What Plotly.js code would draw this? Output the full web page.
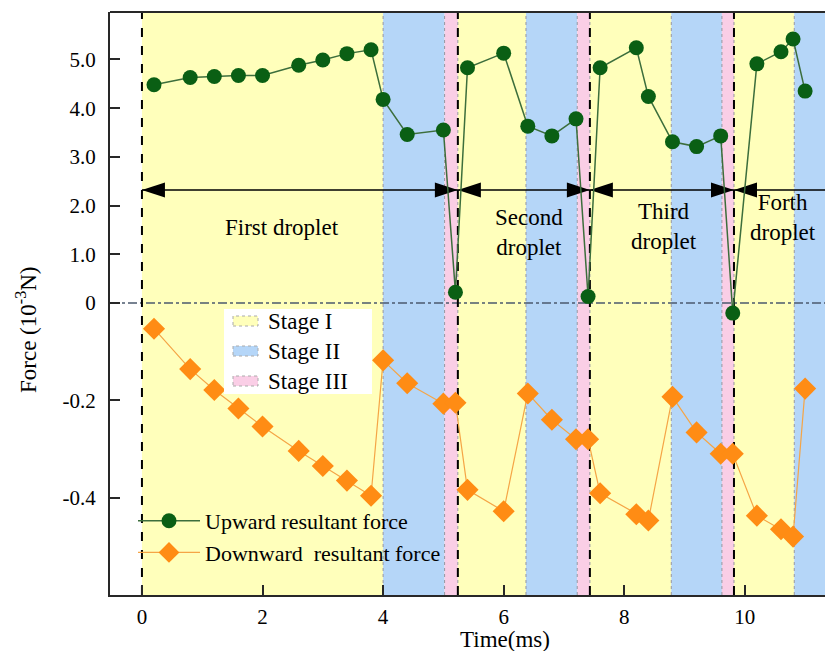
<!DOCTYPE html>
<html>
<head>
<meta charset="utf-8">
<script src="https://cdn.plot.ly/plotly-3.0.1.min.js"></script>
<style>html,body{margin:0;padding:0;background:#fff;}#chart{width:825px;height:651px;}</style>
</head>
<body>
<div id="chart"></div>
<script>
// ---- data ----
const timeMs = [0.2, 0.8, 1.2, 1.6, 2.0, 2.6, 3.0, 3.4, 3.8, 4.0, 4.4, 5.0, 5.2, 5.4, 6.0, 6.4, 6.8, 7.2, 7.4, 7.6, 8.2, 8.4, 8.8, 9.2, 9.6, 9.8, 10.2, 10.6, 10.8, 11.0];
const upwardForce = [4.48, 4.63, 4.65, 4.67, 4.67, 4.88, 4.99, 5.12, 5.20, 4.18, 3.46, 3.55, 0.22, 4.83, 5.13, 3.63, 3.43, 3.78, 0.13, 4.83, 5.24, 4.24, 3.31, 3.21, 3.43, -0.021, 4.91, 5.16, 5.42, 4.35];
const downwardForce = [-0.053, -0.136, -0.179, -0.217, -0.254, -0.304, -0.335, -0.365, -0.396, -0.118, -0.165, -0.207, -0.205, -0.384, -0.428, -0.186, -0.240, -0.280, -0.280, -0.391, -0.434, -0.447, -0.193, -0.266, -0.310, -0.310, -0.437, -0.465, -0.480, -0.176];
const yTickValues = [5.0, 4.0, 3.0, 2.0, 1.0, 0, -0.2, -0.4];
const yTickLabels = ["5.0", "4.0", "3.0", "2.0", "1.0", "0", "-0.2", "-0.4"];
const xTickValues = [0, 2, 4, 6, 8, 10];
// stage bands: [start, end, stage]
const stageStarts = [0, 4.0, 5.02, 5.24, 6.37, 7.22, 7.43, 8.78, 9.62, 9.82, 10.82];
const stageEnds   = [4.0, 5.02, 5.24, 6.37, 7.22, 7.43, 8.78, 9.62, 9.82, 10.82, 12];
const stageKinds  = [1, 2, 3, 1, 2, 3, 1, 2, 3, 1, 2];
const dropletStarts = [0, 5.24, 7.43, 9.82];
const dropletNames = ["First droplet", "Second<br>droplet", "Third<br>droplet", "Forth<br>droplet"];
const dropletLabelX = [2.32, 6.42, 8.66, 10.63];
const dropletLabelY = [1.54, 1.44, 1.56, 1.75];
const stageNames = ["Stage I", "Stage II", "Stage III"];

// ---- scale: negative part is stretched 10x ----
const disp = v => v >= 0 ? v : v * 10;

const stageColors = {1: 'rgb(255,255,187)', 2: 'rgb(181,214,248)', 3: 'rgb(250,206,230)'};
const serif = 'Liberation Serif, Times New Roman, serif';

const X0 = -0.53, X1 = 11.33, Y0 = -6.0, Y1 = 5.975;
const L = 110, T = 12, W = 715, H = 583;
const pxX = px => (px - L) / W;          // pixel -> paper x
const pxY = py => (T + H - py) / H;      // pixel -> paper y
const xUnitPerPx = (X1 - X0) / W, yUnitPerPx = (Y1 - Y0) / H;

const shapes = [];
stageStarts.forEach((s, i) => {
  shapes.push({type: 'rect', xref: 'x', yref: 'paper', x0: s, x1: stageEnds[i], y0: 0, y1: 1,
    fillcolor: stageColors[stageKinds[i]], line: {width: 0}, layer: 'below'});
});
stageStarts.slice(1).forEach(s => {
  shapes.push({type: 'line', xref: 'x', yref: 'paper', x0: s, x1: s, y0: 0, y1: 1,
    line: {color: 'rgb(150,150,160)', width: 1, dash: 'dot'}, layer: 'below'});
});
// zero line
shapes.push({type: 'line', xref: 'paper', yref: 'y', x0: 0, x1: 1, y0: 0, y1: 0,
  line: {color: 'rgb(75,90,110)', width: 1.5, dash: 'dashdot'}, layer: 'below'});
// droplet boundaries
dropletStarts.forEach(s => {
  shapes.push({type: 'line', xref: 'x', yref: 'paper', x0: s, x1: s, y0: 0, y1: 1,
    line: {color: 'black', width: 2, dash: 'dash'}, layer: 'below'});
});
// arrows
const arrowY = 2.32;
shapes.push({type: 'line', xref: 'x', yref: 'y', x0: 0, x1: X1, y0: arrowY, y1: arrowY,
  line: {color: 'black', width: 1.5}, layer: 'below'});
const triL = 23 * xUnitPerPx, triH = 7.5 * yUnitPerPx;
function tri(tip, dir) {
  const b = tip + dir * triL;
  return {type: 'path', xref: 'x', yref: 'y', layer: 'below',
    path: `M ${tip},${arrowY} L ${b},${arrowY + triH} L ${b},${arrowY - triH} Z`,
    fillcolor: 'black', line: {width: 0}};
}
dropletStarts.forEach((s, i) => {
  shapes.push(tri(s, 1));
  if (i > 0) shapes.push(tri(s, -1));
});
// top border
shapes.push({type: 'line', xref: 'paper', yref: 'paper', x0: 0, x1: 1, y0: 1, y1: 1,
  line: {color: 'rgb(40,40,40)', width: 2}});

// stage legend box
shapes.push({type: 'rect', xref: 'paper', yref: 'paper', x0: pxX(224), x1: pxX(372), y0: pxY(394), y1: pxY(309),
  fillcolor: 'white', line: {width: 0}});
const annotations = [];
const stageRowY = [321, 351, 381];
stageNames.forEach((n, i) => {
  shapes.push({type: 'rect', xref: 'paper', yref: 'paper', x0: pxX(233), x1: pxX(258),
    y0: pxY(stageRowY[i] + 5), y1: pxY(stageRowY[i] - 5),
    fillcolor: stageColors[i + 1], line: {color: 'rgb(170,170,170)', width: 1, dash: 'dot'}});
  annotations.push({xref: 'paper', yref: 'paper', x: pxX(266), y: pxY(stageRowY[i]), text: n,
    showarrow: false, xanchor: 'left', yanchor: 'middle', font: {family: serif, size: 23, color: 'black'}});
});

dropletNames.forEach((n, i) => {
  annotations.push({xref: 'x', yref: 'y', x: dropletLabelX[i], y: dropletLabelY[i], text: n,
    showarrow: false, font: {family: serif, size: 23, color: 'black'}});
});
annotations.push({xref: 'paper', yref: 'paper', x: pxX(505), y: pxY(639), yanchor: 'middle', text: 'Time(ms)',
  showarrow: false, font: {family: serif, size: 23, color: 'black'}});
annotations.push({xref: 'paper', yref: 'paper', x: pxX(26), y: pxY(330), xanchor: 'center', yanchor: 'middle',
  text: 'Force (10<sup>-3</sup>N)', textangle: -90, showarrow: false, font: {family: serif, size: 23, color: 'black'}});

const traces = [
  {x: timeMs, y: upwardForce.map(disp), name: 'Upward resultant force', type: 'scatter', mode: 'lines+markers',
   line: {color: 'rgb(60,110,60)', width: 1.5},
   marker: {symbol: 'circle', size: 15, color: 'rgb(10,95,20)'}},
  {x: timeMs, y: downwardForce.map(disp), name: 'Downward  resultant force', type: 'scatter', mode: 'lines+markers',
   line: {color: 'rgb(245,165,70)', width: 1.2},
   marker: {symbol: 'diamond', size: 17, color: 'rgb(255,140,20)'}}
];

const layout = {
  width: 825, height: 651,
  margin: {l: L, r: 0, t: T, b: 56},
  paper_bgcolor: 'white', plot_bgcolor: 'white',
  font: {family: serif, size: 21, color: 'black'},
  showlegend: true,
  legend: {x: pxX(133), y: pxY(500), xanchor: 'left', yanchor: 'top', bgcolor: 'rgba(0,0,0,0)',
    itemwidth: 62, font: {family: serif, size: 22, color: 'black'}},
  xaxis: {range: [X0, X1], tickvals: xTickValues, ticks: 'inside', ticklen: 10, tickwidth: 2,
    tickcolor: 'rgb(40,40,40)', showline: true, linecolor: 'rgb(40,40,40)', linewidth: 2,
    showgrid: false, zeroline: false, ticklabelstandoff: 2, tickfont: {family: serif, size: 21}},
  yaxis: {range: [Y0, Y1], tickvals: yTickValues.map(disp), ticktext: yTickLabels, ticks: 'inside', ticklen: 10,
    tickwidth: 2, tickcolor: 'rgb(40,40,40)', showline: true, linecolor: 'rgb(40,40,40)', linewidth: 2,
    showgrid: false, zeroline: false, ticklabelstandoff: 8, tickfont: {family: serif, size: 21}},
  shapes: shapes,
  annotations: annotations
};
Plotly.newPlot('chart', traces, layout, {displayModeBar: false, staticPlot: true});
</script>
</body>
</html>
